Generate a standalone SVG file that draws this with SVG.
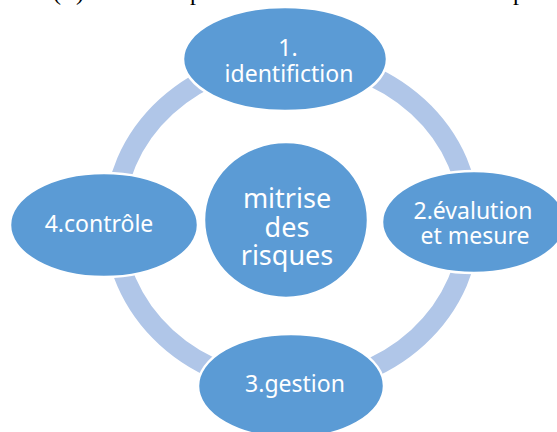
<svg xmlns="http://www.w3.org/2000/svg" width="557" height="432" viewBox="0 0 557 432">
  <style>
    .ring { fill: none; stroke: #B0C6E8; stroke-width: 20; }
    .node { fill: #5B9BD5; stroke: #FFFFFF; stroke-width: 2.5; }
    .label { font-family: "Noto Sans", "Open Sans", sans-serif; font-size: 23px; fill: #FFFFFF; text-anchor: middle; }
    .core { font-size: 27px; }
    .head { font-family: "Liberation Serif", serif; font-size: 24px; fill: #000000; }
  </style>
  <rect width="557" height="432" fill="#FFFFFF"/>

  <!-- heading line above the figure (only its descenders fall inside the frame) -->
  <g id="heading">
    <text class="head" x="53" y="0">(</text>
    <text class="head" x="76" y="0">)</text>
    <text class="head" x="190" y="0">p</text>
    <text class="head" x="513" y="0">p</text>
  </g>

  <!-- cycle ring linking the four steps -->
  <g id="connectors">
    <ellipse class="ring" cx="292" cy="222" rx="178" ry="163"/>
  </g>

  <g id="center">
    <ellipse class="node" cx="286" cy="220" rx="82" ry="78"/>
    <text class="label core" x="287" y="208">mitrise</text>
    <text class="label core" x="287" y="237">des</text>
    <text class="label core" x="287" y="265">risques</text>
  </g>

  <g id="step1">
    <ellipse class="node" cx="285" cy="59" rx="102" ry="52"/>
    <text class="label" x="288" y="56">1.</text>
    <text class="label" x="289" y="82">identifiction</text>
  </g>

  <g id="step2">
    <ellipse class="node" cx="474" cy="222" rx="92" ry="51"/>
    <text class="label" x="473" y="219">2.évalution</text>
    <text class="label" x="475" y="244">et mesure</text>
  </g>

  <g id="step3">
    <ellipse class="node" cx="291" cy="386" rx="93" ry="52"/>
    <text class="label" x="295" y="392">3.gestion</text>
  </g>

  <g id="step4">
    <ellipse class="node" cx="104" cy="225" rx="94" ry="52"/>
    <text class="label" x="99" y="232">4.contrôle</text>
  </g>
</svg>
